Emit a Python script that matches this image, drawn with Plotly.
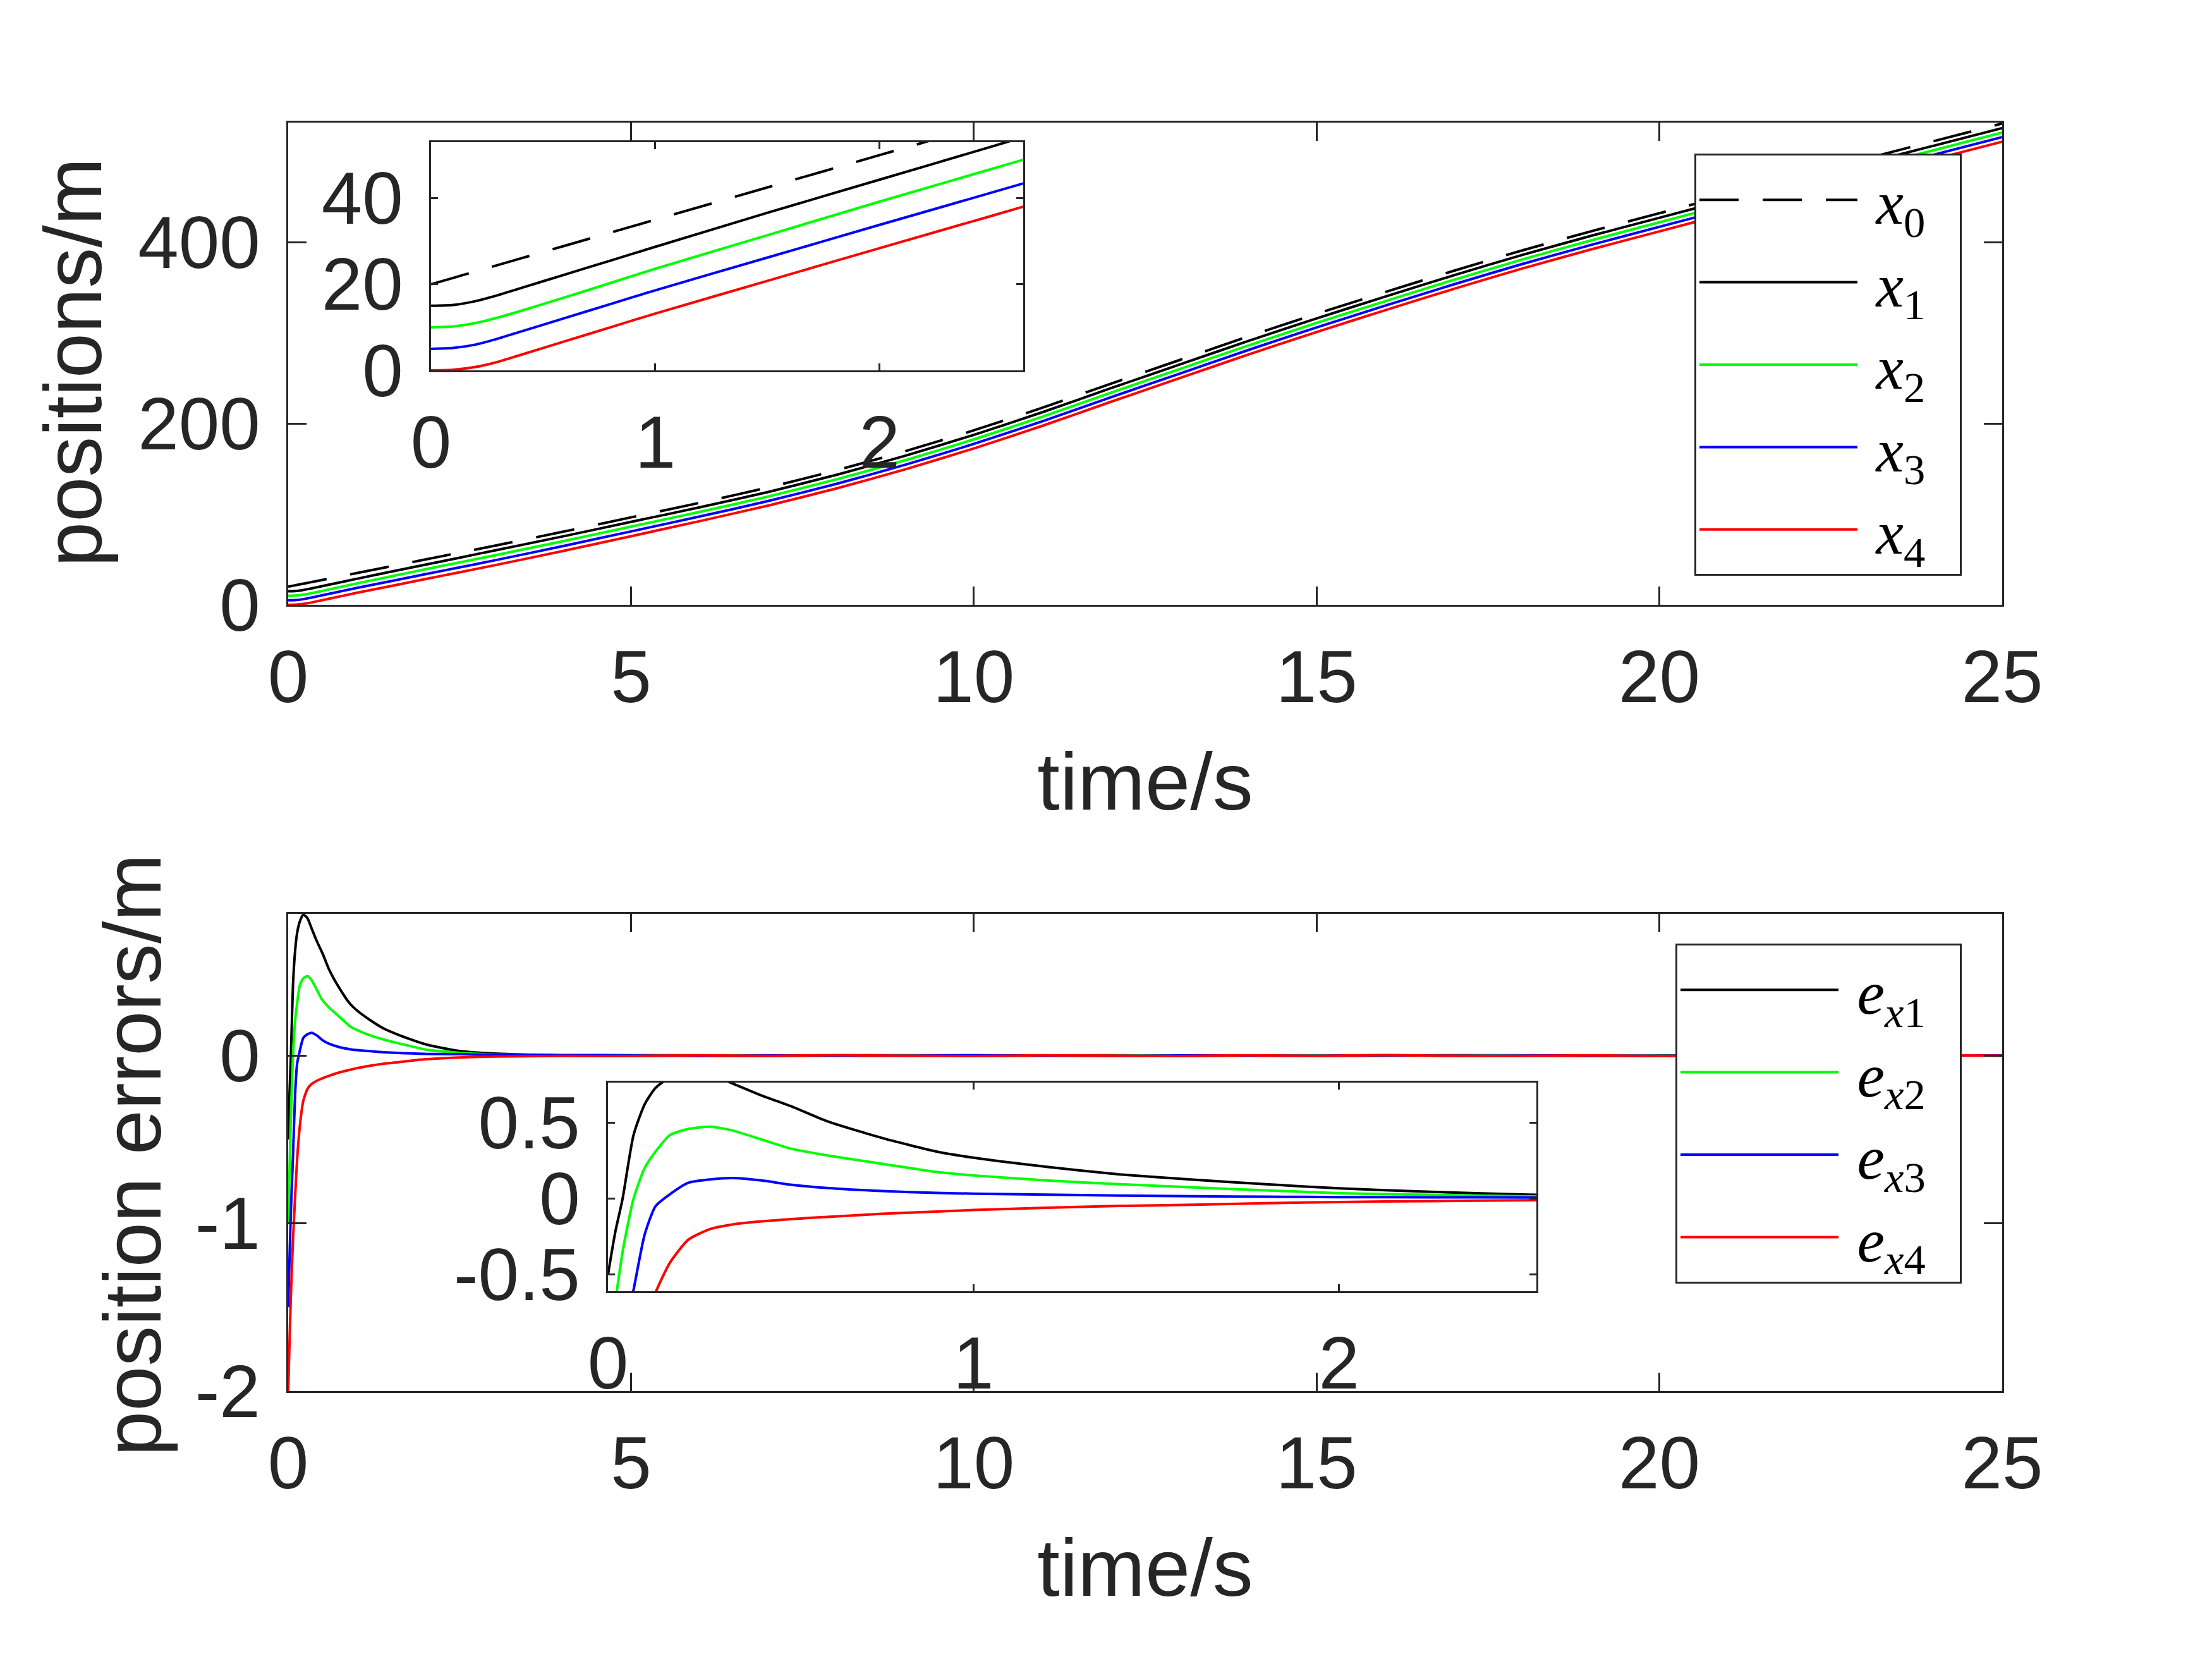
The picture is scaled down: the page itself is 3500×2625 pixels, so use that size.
import plotly.graph_objects as go

# ---- data ----
t_pos = [0, 0.1, 0.2, 0.3, 0.4, 0.6, 0.8, 1.0, 1.5, 2.0, 2.5, 3,
         4, 5, 6, 7, 8, 9, 10, 11, 12, 13, 14,
         15, 16, 17, 18, 19, 20, 21, 22, 23, 24, 25]

x0 = [20.0, 21.5, 23.0, 24.5, 26.0, 29.0, 32.0, 35.0, 42.5, 50.0, 57.5, 65.0,
      80.5, 96.5, 112.5, 129.5, 148.5, 169.5, 192.5, 217.5, 244.0, 270.0, 296.0,
      321.0, 345.0, 368.5, 391.0, 412.0, 432.0, 452.0, 472.0, 492.0, 511.5, 531.0]
x1 = [15.0, 15.2, 16.1, 17.5, 19.1, 22.3, 25.5, 28.7, 36.6, 44.3, 52.0, 59.8,
      75.4, 91.5, 107.5, 124.5, 143.5, 164.5, 187.5, 212.5, 239.0, 265.0, 291.0,
      316.0, 340.0, 363.5, 386.0, 407.0, 427.0, 447.0, 467.0, 487.0, 506.5, 526.0]
x2 = [10.0, 10.2, 11.0, 12.3, 13.8, 17.0, 20.3, 23.6, 31.4, 39.2, 46.8, 54.4,
      70.1, 86.3, 102.5, 119.5, 138.5, 159.5, 182.5, 207.5, 234.0, 260.0, 286.0,
      311.0, 335.0, 358.5, 381.0, 402.0, 422.0, 442.0, 462.0, 482.0, 501.5, 521.0]
x3 = [5.0, 5.2, 6.0, 7.4, 9.0, 12.2, 15.4, 18.6, 26.2, 33.8, 41.3, 48.9,
      64.7, 81.0, 97.4, 114.5, 133.5, 154.5, 177.5, 202.5, 229.0, 255.0, 281.0,
      306.0, 330.0, 353.5, 376.0, 397.0, 417.0, 437.0, 457.0, 477.0, 496.5, 516.0]
x4 = [0.0, 0.15, 0.8, 2.0, 3.6, 6.8, 10.0, 13.2, 20.8, 28.4, 35.9, 43.5,
      59.3, 75.7, 92.3, 109.5, 128.5, 149.5, 172.5, 197.5, 224.0, 250.0, 276.0,
      301.0, 325.0, 348.5, 371.0, 392.0, 412.0, 432.0, 452.0, 472.0, 491.5, 511.0]

t_err = [0, 0.02, 0.04, 0.07, 0.1, 0.13, 0.17, 0.22, 0.28, 0.34, 0.42, 0.5,
         0.6, 0.75, 0.9, 1.0, 1.2, 1.4, 1.6, 1.8, 2.0,
         2.25, 2.5, 2.75, 3.0, 3.5, 4,
         5, 6, 7, 8, 9, 10, 11, 12, 13, 14, 15, 16, 17, 18, 19, 20, 21, 22, 23, 24, 25]

e1 = [-0.50, -0.22, 0.0, 0.42, 0.62, 0.73, 0.80, 0.84, 0.82, 0.76, 0.68, 0.61,
      0.51, 0.40, 0.31, 0.27, 0.21, 0.16, 0.125, 0.095, 0.068,
      0.045, 0.027, 0.018, 0.012, 0.006, 0.003,
      0.002, 0.001, -0.002, 0.001, 0.002, -0.001, 0.0, 0.002, -0.002, 0.001, 0.0,
      -0.001, 0.002, 0.001, -0.002, 0.0, 0.001, -0.001, 0.002, 0.0, 0.001]
e2 = [-1.0, -0.68, -0.35, 0.0, 0.2, 0.31, 0.42, 0.46, 0.474, 0.45, 0.39, 0.33,
      0.285, 0.23, 0.175, 0.153, 0.12, 0.095, 0.074, 0.055, 0.036,
      0.025, 0.016, 0.01, 0.006, 0.003, 0.001,
      -0.001, 0.002, 0.0, -0.002, 0.001, 0.002, -0.001, 0.0, 0.001, -0.002, 0.002,
      0.0, -0.001, 0.002, 0.0, -0.002, 0.001, 0.0, -0.001, 0.002, 0.0]
e3 = [-1.5, -1.2, -0.92, -0.6, -0.24, -0.05, 0.03, 0.105, 0.127, 0.136, 0.12, 0.092,
      0.07, 0.05, 0.038, 0.033, 0.026, 0.02, 0.016, 0.013, 0.01,
      0.009, 0.008, 0.006, 0.004, 0.002, 0.001,
      0.0, -0.002, 0.001, 0.0, -0.001, 0.002, 0.0, -0.002, 0.001, 0.0, -0.001,
      0.002, -0.001, 0.0, 0.001, -0.002, 0.0, 0.002, -0.001, 0.0, 0.001]
e4 = [-2.0, -1.7, -1.42, -1.1, -0.85, -0.62, -0.42, -0.27, -0.2, -0.17, -0.15, -0.135,
      -0.12, -0.1, -0.085, -0.075, -0.06, -0.048, -0.04, -0.03, -0.022,
      -0.016, -0.011, -0.008, -0.006, -0.004, -0.002,
      -0.003, 0.002, -0.002, 0.003, -0.001, -0.003, 0.002, 0.0, -0.003, 0.002, -0.002,
      0.003, -0.001, -0.002, 0.002, -0.003, 0.001, 0.002, -0.002, 0.003, -0.001]

pos_names = ['<i>x</i><sub>0</sub>', '<i>x</i><sub>1</sub>', '<i>x</i><sub>2</sub>',
             '<i>x</i><sub>3</sub>', '<i>x</i><sub>4</sub>']
err_names = ['<i>e</i><sub><i>x</i>1</sub>', '<i>e</i><sub><i>x</i>2</sub>',
             '<i>e</i><sub><i>x</i>3</sub>', '<i>e</i><sub><i>x</i>4</sub>']
colors = ['#000000', '#00ff00', '#0000ff', '#ff0000']

W, H = 3500, 2625
OFF = 8  # page body margin, the figure sits 8px in from the corner
AX = '#262626'
TICK_FONT = dict(family='Liberation Sans, Arial', size=116, color=AX)
TITLE_FONT = dict(family='Liberation Sans, Arial', size=128, color=AX)
LEG_FONT = dict(family='Liberation Serif', size=98, color='black')
LW = 4
GAP = '\u00a0'


def px_x(a, b):
    return [(a - OFF) / W, (b - OFF) / W]


def px_y(top, bottom):
    return [1 - (bottom - OFF) / H, 1 - (top - OFF) / H]


def label(name):
    return GAP + name + GAP * 2


fig = go.Figure()

# top main + inset
pos_series = [x1, x2, x3, x4]
for ax_x, ax_y, show in [('x', 'y', True), ('x2', 'y2', False)]:
    fig.add_trace(go.Scatter(x=t_pos, y=x0, name=label(pos_names[0]), mode='lines',
                             line=dict(color='#000000', width=LW, dash='62px,38px',
                                       shape='spline', smoothing=0.6),
                             xaxis=ax_x, yaxis=ax_y, showlegend=show, legend='legend'))
    for i, s in enumerate(pos_series):
        fig.add_trace(go.Scatter(x=t_pos, y=s, name=label(pos_names[i + 1]), mode='lines',
                                 line=dict(color=colors[i], width=LW,
                                           shape='spline', smoothing=0.6),
                                 xaxis=ax_x, yaxis=ax_y, showlegend=show, legend='legend'))

# bottom main + inset
err_series = [e1, e2, e3, e4]
for ax_x, ax_y, show in [('x3', 'y3', True), ('x4', 'y4', False)]:
    for i, s in enumerate(err_series):
        fig.add_trace(go.Scatter(x=t_err, y=s, name=label(err_names[i]), mode='lines',
                                 line=dict(color=colors[i], width=LW,
                                           shape='spline', smoothing=0.6),
                                 xaxis=ax_x, yaxis=ax_y, showlegend=show, legend='legend2'))


def axis_style(domain, rng, tickvals, ticktext, ticklen, anchor, standoff,
               title=None, tstand=0):
    d = dict(domain=domain, range=rng, tickvals=tickvals, ticktext=ticktext,
             ticks='inside', ticklen=ticklen, tickwidth=3, tickcolor=AX,
             showline=True, linewidth=3, linecolor=AX, mirror='ticks',
             showgrid=False, zeroline=False, tickfont=TICK_FONT, anchor=anchor,
             ticklabelstandoff=standoff, automargin=False)
    if title:
        d['title'] = dict(text=title, font=TITLE_FONT, standoff=tstand)
    return d


t_ticks = [0, 5, 10, 15, 20, 25]
t_text = ['0', '5', '10', '15', '20', '25']

fig.update_layout(
    width=W, height=H,
    margin=dict(l=0, r=0, t=0, b=0),
    paper_bgcolor='white', plot_bgcolor='white',
    xaxis=axis_style(px_x(456, 3168), [0, 25], t_ticks, t_text, 29, 'y', 12,
                     'time/s', 57),
    yaxis=axis_style(px_y(194, 957), [0, 532], [0, 200, 400], ['0', '200', '400'],
                     29, 'x', 18),
    xaxis2=axis_style(px_x(682, 1619), [0, 2.64], [0, 1, 2], ['0', '1', '2'], 11, 'y2', 12),
    yaxis2=axis_style(px_y(225, 586), [0, 53], [0, 20, 40], ['0', '20', '40'], 11, 'x2', 18),
    xaxis3=axis_style(px_x(456, 3168), [0, 25], t_ticks, t_text, 29, 'y3', 12,
                      'time/s', 57),
    yaxis3=axis_style(px_y(1446, 2201), [-2, 0.845], [-2, -1, 0], ['-2', '-1', '0'],
                      29, 'x3', 18),
    xaxis4=axis_style(px_x(962, 2431), [0, 2.54], [0, 1, 2], ['0', '1', '2'], 11, 'y4', 12),
    yaxis4=axis_style(px_y(1713, 2043), [-0.61, 0.765], [-0.5, 0, 0.5],
                      ['-0.5', '0', '0.5'], 11, 'x4', 18),
    legend=dict(x=(2681 - OFF) / W, y=1 - (243 - OFF) / H, xanchor='left', yanchor='top',
                bgcolor='white', bordercolor=AX, borderwidth=3,
                font=LEG_FONT, itemwidth=250, tracegroupgap=0),
    legend2=dict(x=(2651 - OFF) / W, y=1 - (1493 - OFF) / H, xanchor='left', yanchor='top',
                 bgcolor='white', bordercolor=AX, borderwidth=3,
                 font=LEG_FONT, itemwidth=250, tracegroupgap=0),
    annotations=[
        dict(text='positions/m', textangle=-90, font=TITLE_FONT, showarrow=False,
             xref='paper', yref='paper', xanchor='center', yanchor='middle',
             x=(115 - OFF) / W, y=1 - (574 - OFF) / H),
        dict(text='position errors/m', textangle=-90, font=TITLE_FONT, showarrow=False,
             xref='paper', yref='paper', xanchor='center', yanchor='middle',
             x=(209 - OFF) / W, y=1 - (1828 - OFF) / H),
    ],
)

fig.write_html("out.html")
